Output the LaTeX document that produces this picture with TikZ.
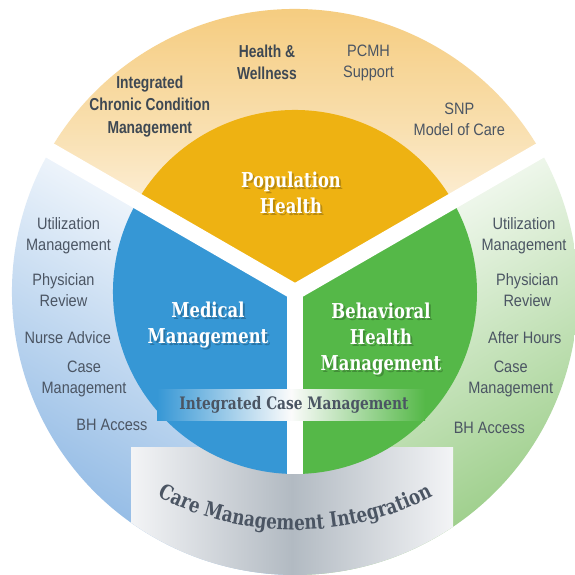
\documentclass[tikz,border=0pt]{standalone}
\usepackage{fontspec}
\usetikzlibrary{decorations.text}
\newfontfamily\labfont{Liberation Sans}[FakeStretch=0.88]
\newfontfamily\labboldfam{Liberation Sans}[FakeStretch=0.8]
\newfontfamily\slabfont{DejaVu Serif}[FakeStretch=0.8]
\definecolor{txt}{HTML}{4B5563}
\definecolor{txtb}{HTML}{3E4853}
\definecolor{yIn}{HTML}{EEB212}
\definecolor{bIn}{HTML}{3697D5}
\definecolor{gIn}{HTML}{55B848}
\definecolor{yOut}{HTML}{F4C670}
\definecolor{bOut}{HTML}{86B3E2}
\definecolor{gOut}{HTML}{96CB82}
\definecolor{grayMid}{HTML}{B2BAC2}
\definecolor{grayEdge}{HTML}{F3F4F6}
\tikzset{
  gap/.style={draw=white, line width=16pt},
  lab/.style={font=\labfont\fontsize{16.5}{21}\selectfont, text=txt, align=center, inner sep=0pt},
  labb/.style={font=\labboldfam\bfseries\fontsize{17.3}{22.4}\selectfont, text=txtb, align=center, inner sep=0pt},
  title/.style={font=\slabfont\bfseries\fontsize{20.5}{25.8}\selectfont, text=white, align=center, inner sep=0pt},
  tshadow/.style={title, text=black, text opacity=0.22},
  icmtext/.style={font=\slabfont\bfseries\fontsize{17.2}{18}\selectfont, text=txt, inner sep=0pt}
}
\begin{document}
\begin{tikzpicture}[x=1pt,y=1pt]
\useasboundingbox (0,0) rectangle (574,575);
\fill[white] (0,0) rectangle (574,575);
\coordinate (C) at (295,283);
\coordinate (C2) at (295,345);
% outer ring sectors
\shade[top color=yOut, bottom color=white, middle color=yOut!55!white]
  (C) -- ++(30:283) arc[start angle=30, end angle=150, radius=283] -- cycle;
\shade[top color=white, bottom color=bOut, shading angle=-30]
  (C) -- ++(150:283) arc[start angle=150, end angle=270, radius=283] -- cycle;
\shade[top color=white, bottom color=gOut, shading angle=30]
  (C) -- ++(270:283) arc[start angle=270, end angle=390, radius=283] -- cycle;
% grey band
\begin{scope}
  \clip (C) circle[radius=283];
  \shade[left color=grayEdge, right color=grayEdge, middle color=grayMid] (131,-5) rectangle (453,127);
\end{scope}
% inner sectors
\fill[yIn] (C) -- ++(30:182) arc[start angle=30, end angle=150, radius=182] -- cycle;
\fill[bIn] (C) -- ++(150:182) arc[start angle=150, end angle=270, radius=182] -- cycle;
\fill[gIn] (C) -- ++(270:182) arc[start angle=270, end angle=390, radius=182] -- cycle;
% gaps
\draw[gap] (C) -- ++(30:300);
\draw[gap] (C) -- ++(150:300);
\draw[gap] (C) -- ++(270:182);
\fill[white] (C) circle[radius=8];
% integrated case management band
\shade[left color=bIn, right color=gIn, middle color=white!97!gray] (157,154) rectangle (425,185);
\node[icmtext] (icm) at (294,170) {Integrated Case Management};
% care management integration
\path[postaction={decorate, decoration={text along path, text align=center,
  text={|\slabfont\bfseries\fontsize{21}{20}\selectfont\color{txt}|Care Management Integration}}}]
  ([shift={(240:300)}]C2) arc[start angle=240, end angle=300, radius=300];
% titles
\node[tshadow] (phs) at (293,380) {Population\\Health};
\node[title] (ph) at (291,382) {Population\\Health};
\node[tshadow] (mms) at (210,248) {Medical\\Management};
\node[title] (mm) at (208,250) {Medical\\Management};
\node[tshadow] (bhs) at (383,234) {Behavioral\\Health\\Management};
\node[title] (bh) at (381,236) {Behavioral\\Health\\Management};
% top labels
\node[labb] (iccm) at (149.8,468.5) {Integrated\\Chronic Condition\\Management};
\node[labb] (hw) at (267,512.8) {Health \&\\Wellness};
\node[lab] (pcmh) at (368.5,512.5) {PCMH\\Support};
\node[lab] (snp) at (459.3,455.3) {SNP\\Model of Care};
% left labels
\node[lab] (lum) at (68.5,339.5) {Utilization\\Management};
\node[lab] (lpr) at (63.5,285) {Physician\\Review};
\node[lab] (lna) at (67.7,237) {Nurse Advice};
\node[lab] (lcm) at (84,196.5) {Case\\Management};
\node[lab] (lbh) at (112,150.5) {BH Access};
% right labels
\node[lab] (rum) at (524,339.5) {Utilization\\Management};
\node[lab] (rpr) at (527.3,285.3) {Physician\\Review};
\node[lab] (rah) at (524.8,237) {After Hours};
\node[lab] (rcm) at (510.7,196.5) {Case\\Management};
\node[lab] (rbh) at (489.3,147) {BH Access};
\end{tikzpicture}
\end{document}
